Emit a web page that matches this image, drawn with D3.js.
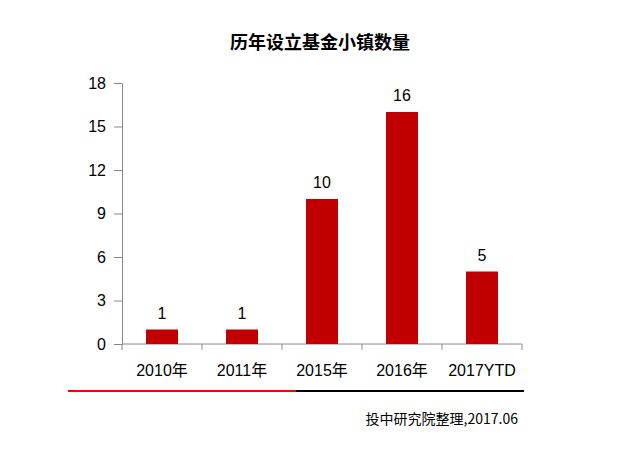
<!DOCTYPE html>
<html><head><meta charset="utf-8">
<script src="https://cdn.jsdelivr.net/npm/d3@7"></script>
<style>body{margin:0;background:#fff}</style>
</head><body>
<script>
const categories = ["2010年","2011年","2015年","2016年","2017YTD"];
const values = [1,1,10,16,5];
const yTicks = [0,3,6,9,12,15,18];
const title = "历年设立基金小镇数量";
const source = "投中研究院整理,2017.06";

const W=640,H=460;
const svg=d3.select("body").append("svg").attr("width",W).attr("height",H);
const x=d3.scaleBand().domain(categories).range([122,522]).paddingInner(0.6).paddingOuter(0.3);
const y=d3.scaleLinear().domain([0,18]).range([344,83]);

svg.append("text").attr("x",320).attr("y",49).attr("text-anchor","middle")
  .attr("font-family","Noto Sans CJK SC").attr("font-weight","bold").attr("font-size",18).text(title);

const ya=svg.append("g").attr("transform","translate(122,0)")
  .call(d3.axisLeft(y).tickValues(yTicks).tickSize(8).tickSizeOuter(0));
ya.select(".domain").attr("stroke","#888");
ya.selectAll(".tick line").attr("stroke","#888");
ya.selectAll(".tick text").attr("font-family","Liberation Sans, Arial").attr("font-size",16).attr("fill","#000").attr("x",-16);

const xa=svg.append("g").attr("transform","translate(0,344)");
xa.append("line").attr("x1",122).attr("x2",522).attr("stroke","#888");
const bounds=categories.map(c=>x(c)-x.step()*0.3).concat([x(categories[categories.length-1])+x.bandwidth()+x.step()*0.3]);
xa.selectAll(".bt").data(bounds).join("line").attr("x1",d=>d).attr("x2",d=>d).attr("y1",0).attr("y2",6).attr("stroke","#888");
xa.selectAll(".lbl").data(categories).join("text").attr("x",d=>x(d)+x.bandwidth()/2).attr("y",32)
  .attr("text-anchor","middle").attr("font-family","Liberation Sans, Noto Sans CJK SC").attr("font-size",16).text(d=>d);

svg.selectAll(".bar").data(values).join("rect")
  .attr("x",(d,i)=>x(categories[i])).attr("width",x.bandwidth())
  .attr("y",d=>y(d)).attr("height",d=>y(0)-y(d)).attr("fill","#c00000");
svg.selectAll(".val").data(values).join("text")
  .attr("x",(d,i)=>x(categories[i])+x.bandwidth()/2).attr("y",d=>y(d)-11)
  .attr("text-anchor","middle").attr("font-family","Liberation Sans, Arial").attr("font-size",16).text(d=>d);

svg.append("line").attr("x1",68).attr("x2",296).attr("y1",391).attr("y2",391).attr("stroke","#ff0000").attr("stroke-width",2);
svg.append("line").attr("x1",296).attr("x2",524).attr("y1",391).attr("y2",391).attr("stroke","#000").attr("stroke-width",2);
svg.append("text").attr("x",518).attr("y",424).attr("text-anchor","end")
  .attr("font-family","Noto Sans CJK SC").attr("font-size",14).text(source);
</script>
</body></html>
